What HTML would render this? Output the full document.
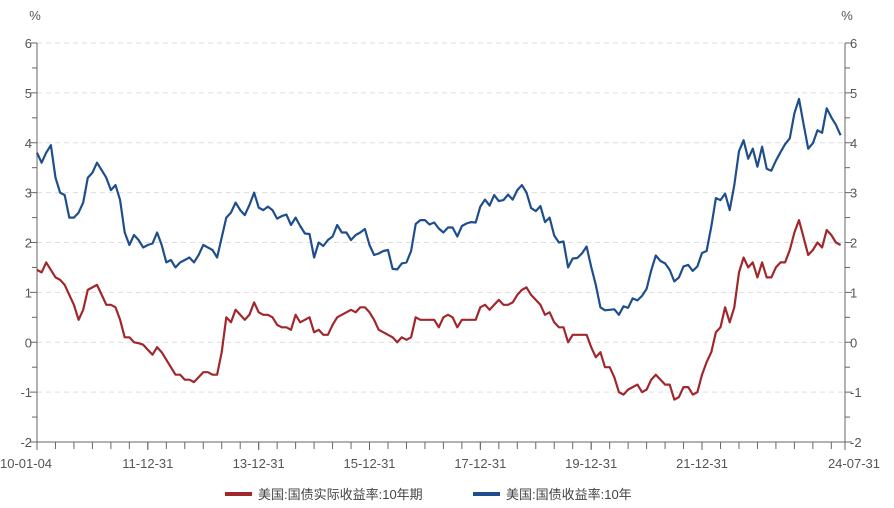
<!DOCTYPE html>
<html><head><meta charset="utf-8"><style>
body{margin:0;background:#fff;}
svg{display:block;font-family:"Liberation Sans","Noto Sans CJK SC",sans-serif;}
</style></head><body>
<svg id="chart" width="894" height="508" viewBox="0 0 894 508"></svg>
<script>
const yTicks=[-2,-1,0,1,2,3,4,5,6];
const xTickLabels=["10-01-04","11-12-31","13-12-31","15-12-31","17-12-31","19-12-31","21-12-31","24-07-31"];
const xTickDates=[2010.0,2012.0,2014.0,2016.0,2018.0,2020.0,2022.0,2024.58];
const startYear=2010.0;
const nominal10y=[3.8,3.6,3.8,3.95,3.3,3.0,2.95,2.5,2.5,2.6,2.8,3.3,
3.4,3.6,3.45,3.3,3.05,3.15,2.85,2.2,1.95,2.15,2.05,1.9,
1.95,1.98,2.2,1.95,1.6,1.65,1.5,1.6,1.65,1.7,1.6,1.75,
1.95,1.9,1.85,1.7,2.1,2.5,2.6,2.8,2.65,2.55,2.75,3.0,
2.7,2.65,2.72,2.65,2.48,2.53,2.56,2.35,2.5,2.33,2.18,2.17,
1.7,2.0,1.93,2.05,2.12,2.35,2.2,2.2,2.05,2.15,2.2,2.27,
1.95,1.75,1.78,1.83,1.85,1.47,1.46,1.58,1.6,1.83,2.37,2.45,
2.45,2.36,2.4,2.28,2.2,2.3,2.3,2.12,2.33,2.38,2.41,2.4,
2.72,2.86,2.74,2.95,2.83,2.85,2.96,2.86,3.05,3.15,3.0,2.69,
2.63,2.73,2.41,2.5,2.14,2.0,2.02,1.5,1.68,1.69,1.78,1.92,
1.51,1.15,0.7,0.64,0.65,0.66,0.55,0.72,0.69,0.88,0.84,0.93,
1.07,1.44,1.74,1.63,1.58,1.45,1.22,1.3,1.52,1.55,1.43,1.52,
1.79,1.83,2.32,2.89,2.85,2.98,2.65,3.15,3.83,4.05,3.68,3.88,
3.52,3.92,3.48,3.44,3.64,3.81,3.97,4.09,4.59,4.88,4.37,3.88,
3.99,4.25,4.2,4.69,4.51,4.36,4.15];
const real10y=[1.45,1.4,1.6,1.45,1.3,1.25,1.15,0.95,0.75,0.45,0.65,1.05,
1.1,1.15,0.95,0.75,0.75,0.7,0.45,0.1,0.1,0.0,-0.02,-0.05,
-0.15,-0.25,-0.1,-0.2,-0.35,-0.5,-0.65,-0.65,-0.75,-0.75,-0.8,-0.7,
-0.6,-0.6,-0.65,-0.65,-0.2,0.5,0.4,0.65,0.55,0.45,0.55,0.8,
0.6,0.55,0.55,0.5,0.35,0.3,0.3,0.25,0.55,0.4,0.45,0.5,
0.2,0.25,0.15,0.15,0.35,0.5,0.55,0.6,0.65,0.6,0.7,0.7,
0.6,0.45,0.25,0.2,0.15,0.1,0.0,0.1,0.05,0.1,0.5,0.45,
0.45,0.45,0.45,0.3,0.5,0.55,0.5,0.3,0.45,0.45,0.45,0.45,
0.7,0.75,0.65,0.75,0.85,0.75,0.75,0.8,0.95,1.05,1.1,0.95,
0.85,0.75,0.55,0.6,0.4,0.3,0.3,0.0,0.15,0.15,0.15,0.15,
-0.1,-0.3,-0.2,-0.5,-0.5,-0.7,-1.0,-1.05,-0.95,-0.9,-0.85,-1.0,
-0.95,-0.75,-0.65,-0.75,-0.85,-0.85,-1.15,-1.1,-0.9,-0.9,-1.05,-1.0,
-0.65,-0.4,-0.2,0.2,0.3,0.7,0.4,0.7,1.4,1.7,1.5,1.6,
1.3,1.6,1.3,1.3,1.5,1.6,1.6,1.85,2.2,2.45,2.1,1.75,
1.85,2.0,1.9,2.25,2.15,2.0,1.95];

const NS="http://www.w3.org/2000/svg";
const svg=document.getElementById('chart');
const L=37,R=845,T=43,B=442,x0=2010.0,x1=2024.58;
const xs=d=>L+(d-x0)/(x1-x0)*(R-L);
const ys=v=>B-(v+2)/8*(B-T);
function mk(tag,attrs,parent){const e=document.createElementNS(NS,tag);for(const k in attrs)e.setAttribute(k,attrs[k]);(parent||svg).appendChild(e);return e;}

// gridlines + y ticks
yTicks.forEach(v=>{
  const y=ys(v);
  if(v>-2){const g=mk('line',{x1:L,x2:R,y1:y,y2:y,stroke:'#ddd','stroke-dasharray':'5,4'});
  
  }
  const tl=mk('text',{x:L-5,y:y+5,'text-anchor':'end','font-size':13,fill:'#555'});tl.textContent=v;
  
  
  const tr=mk('text',{x:R+5,y:y+5,'text-anchor':'start','font-size':13,fill:'#555'});tr.textContent=v;
  
  
});
for(let v=-2;v<=6;v+=0.5){
  const y=ys(v),len=Number.isInteger(v)?7:5;
  mk('line',{x1:L-len,x2:L,y1:y,y2:y,stroke:'#666'});
  mk('line',{x1:R,x2:R+len,y1:y,y2:y,stroke:'#666'});
}
// axes
const al=mk('line',{x1:L,x2:L,y1:T,y2:B,stroke:'#666'});

const ar=mk('line',{x1:R,x2:R,y1:T,y2:B,stroke:'#666'});

const ab=mk('line',{x1:L,x2:R,y1:B,y2:B,stroke:'#666'});

for(let d=x0;d<=x1+0.001;d+=1/3){const x=xs(d);mk('line',{x1:x,x2:x,y1:B,y2:B+7,stroke:'#666'});}
xTickLabels.forEach((lab,i)=>{
  const x=xs(xTickDates[i]);
  mk('line',{x1:x,x2:x,y1:B,y2:B+8,stroke:'#666'});
  const anchor=i===0?'start':(i===xTickLabels.length-1?'end':'middle');
  const t=mk('text',{x:i===0?x-37:(i===xTickLabels.length-1?x+35:x),y:B+26,'text-anchor':anchor,'font-size':13,fill:'#555'});
  t.textContent=lab;
  
  
});
// units
[[L-2,'%'],[R+2,'%']].forEach(([x,s])=>{const t=mk('text',{x:x,y:20,'text-anchor':'middle','font-size':13,fill:'#555'});t.textContent=s;

});

function series(arr,color,name){
  const pts=arr.map((v,i)=>xs(startYear+i/12).toFixed(1)+','+ys(v).toFixed(1)).join(' ');
  const p=mk('polyline',{points:pts,fill:'none',stroke:color,'stroke-width':2.2,'stroke-linejoin':'round'});
  
  
}
series(nominal10y,'#1f4e8c','nominal-yield-line');
series(real10y,'#a0282d','real-yield-line');

// legend
function legend(x,color,text,name){
  const g=mk('g',{});
  
  
  mk('line',{x1:x,x2:x+27,y1:494,y2:494,stroke:color,'stroke-width':4},g);
  const t=mk('text',{x:x+33,y:499,'font-size':13,fill:'#444'},g);t.textContent=text;
}
legend(225,'#a0282d','美国:国债实际收益率:10年期','legend-real-yield');
legend(473,'#1f4e8c','美国:国债收益率:10年','legend-nominal-yield');
</script>
</body></html>
